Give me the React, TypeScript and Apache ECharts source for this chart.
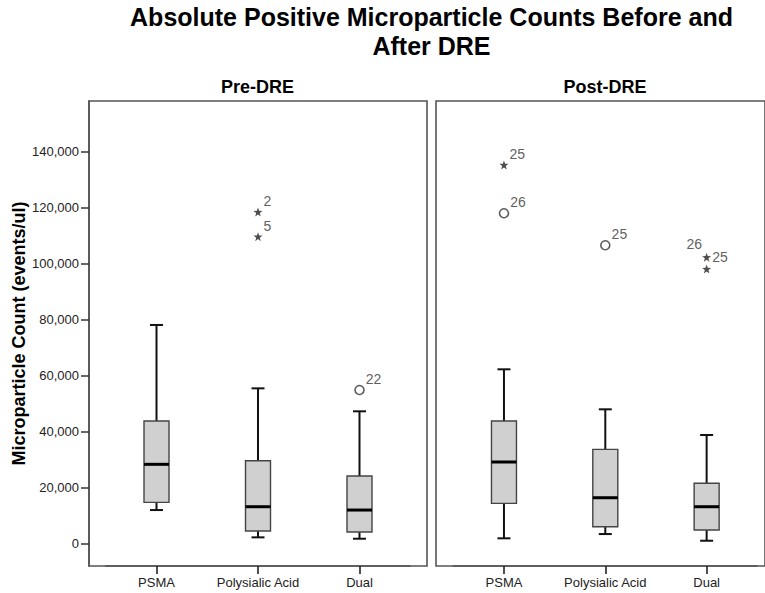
import React, { useEffect, useRef } from "react";
import * as echarts from "echarts";

const categories = ["PSMA", "Polysialic Acid", "Dual"];
// [min, Q1, median, Q3, max]
const preStats = [
  [11900, 14650, 28240, 43720, 78050],
  [2140, 4400, 13090, 29540, 55400],
  [1650, 4040, 11900, 24060, 47190],
];
const postStats = [
  [1790, 14300, 29070, 43720, 62200],
  [3320, 5940, 16300, 33600, 47900],
  [930, 4750, 13090, 21450, 38720],
];
// [categoryIndex, value, case label]
const preExtremes = [
  [1, 118440, "2"],
  [1, 109620, "5"],
];
const preMild = [[2, 54800, "22"]];
const postExtremes = [
  [0, 135250, "25"],
  [2, 102250, "25"],
  [2, 98070, "26"],
];
const postMild = [
  [0, 117980, "26"],
  [1, 106540, "25"],
];
const yTicks = [0, 20000, 40000, 60000, 80000, 100000, 120000, 140000];
const Y_MIN = -8100;
const Y_MAX = 158100;
const titleLines = ["Absolute Positive Microparticle Counts Before and", "After DRE"];

const FONT = "'Liberation Sans', Arial, Helvetica, sans-serif";
const STAR =
  "path://M0,-10 L2.35,-3.24 L9.51,-3.09 L3.8,1.24 L5.88,8.09 L0,4 L-5.88,8.09 L-3.8,1.24 L-9.51,-3.09 L-2.35,-3.24Z";

function boxRender(params: any, api: any) {
  const idx = api.value(0);
  const mn = api.value(1);
  const q1 = api.value(2);
  const md = api.value(3);
  const q3 = api.value(4);
  const mx = api.value(5);
  const x = api.coord([idx, md])[0];
  const y = (v: number) => api.coord([idx, v])[1];
  const hb = 12.5;
  const hc = 6.5;
  const whisk = { stroke: "#111", lineWidth: 2 };
  return {
    type: "group",
    children: [
      { type: "line", shape: { x1: x, y1: y(q3), x2: x, y2: y(mx) }, style: whisk },
      { type: "line", shape: { x1: x, y1: y(q1), x2: x, y2: y(mn) }, style: whisk },
      { type: "line", shape: { x1: x - hc, y1: y(mx), x2: x + hc, y2: y(mx) }, style: whisk },
      { type: "line", shape: { x1: x - hc, y1: y(mn), x2: x + hc, y2: y(mn) }, style: whisk },
      {
        type: "rect",
        shape: { x: x - hb, y: y(q3), width: hb * 2, height: y(q1) - y(q3) },
        style: { fill: "#d0d0d0", stroke: "#444", lineWidth: 1.4 },
      },
      {
        type: "line",
        shape: { x1: x - hb, y1: y(md), x2: x + hb, y2: y(md) },
        style: { stroke: "#000", lineWidth: 3 },
      },
    ],
  };
}

function outlierData(arr: any[], side: string[] = []) {
  return arr.map((d, i) => {
    const s = side[i] || "right";
    return {
      value: [d[0], d[1]],
      label: {
        show: true,
        formatter: String(d[2]),
        position: s === "left" ? "left" : "right",
        distance: s === "left" ? 0 : 1,
        offset: s === "left" ? [0, -25] : [0, s === "rightLevel" ? 0 : -11],
      },
    };
  });
}

const postExtremeSides = ["right", "rightLevel", "left"];

export default function App() {
  const ref = useRef<HTMLDivElement>(null);
  useEffect(() => {
    if (!ref.current) return;
    const chart = echarts.init(ref.current, null, { renderer: "svg" });
    const labelStyle = { fontFamily: FONT, fontSize: 14, color: "#333" };
    const frameGrid = { show: true, borderColor: "#555", borderWidth: 1.6, backgroundColor: "transparent" };
    const yCommon = { type: "value", min: Y_MIN, max: Y_MAX, splitLine: { show: false } };
    const catAxis = (gridIndex: number) => ({
      type: "category",
      gridIndex,
      data: categories,
      boundaryGap: true,
      axisLine: { show: true, onZero: false, lineStyle: { color: "#555", width: 1.6 } },
      axisTick: { show: true, interval: 0, alignWithLabel: true, length: 8, lineStyle: { color: "#222", width: 1.6 } },
      axisLabel: { interval: 0, margin: 10, fontFamily: FONT, fontSize: 13, color: "#222", hideOverlap: false },
      splitLine: { show: false },
    });
    const outlierSeries = (idx: number, data: any[], symbol: string, size: number, extra: any) => ({
      type: "scatter",
      xAxisIndex: idx,
      yAxisIndex: idx,
      symbol,
      symbolSize: size,
      data,
      itemStyle: extra,
      label: { ...labelStyle },
      z: 5,
    });
    const circleStyle = { color: "#fff", borderColor: "#333", borderWidth: 1.6 };
    const titleStyle = { fontFamily: FONT, fontSize: 25, fontWeight: "bold", fill: "#000", align: "center", verticalAlign: "middle" };
    const panelStyle = { fontFamily: FONT, fontSize: 18, fontWeight: "bold", fill: "#000", align: "center", verticalAlign: "middle" };
    chart.setOption({
      animation: false,
      backgroundColor: "#fff",
      grid: [
        { left: 89, width: 338, top: 101, bottom: 27, ...frameGrid },
        { left: 105.75, width: 304.5, top: 101, bottom: 27, show: false },
        { left: 436, width: 338, top: 101, bottom: 27, ...frameGrid },
        { left: 453.3, width: 304, top: 101, bottom: 27, show: false },
      ],
      xAxis: [
        { type: "value", gridIndex: 0, show: false },
        catAxis(1),
        { type: "value", gridIndex: 2, show: false },
        catAxis(3),
      ],
      yAxis: [
        {
          ...yCommon,
          gridIndex: 0,
          name: "Microparticle Count (events/ul)",
          nameLocation: "middle",
          nameGap: 60,
          nameTextStyle: { fontFamily: FONT, fontSize: 18, fontWeight: "bold", color: "#000" },
          axisLine: { show: true, lineStyle: { color: "#555", width: 1.6 } },
          axisTick: { show: true, length: 8, customValues: yTicks, lineStyle: { color: "#333", width: 1.5 } },
          axisLabel: {
            margin: 10,
            customValues: yTicks,
            fontFamily: FONT,
            fontSize: 13,
            color: "#222",
            formatter: (v: number) => v.toLocaleString("en-US"),
          },
        },
        { ...yCommon, gridIndex: 1, show: false },
        { ...yCommon, gridIndex: 2, show: false },
        { ...yCommon, gridIndex: 3, show: false },
      ],
      graphic: [
        { type: "text", x: 431.5, y: 17, style: { text: titleLines[0], ...titleStyle } },
        { type: "text", x: 431.5, y: 46, style: { text: titleLines[1], ...titleStyle } },
        { type: "text", x: 257.5, y: 87, style: { text: "Pre-DRE", ...panelStyle } },
        { type: "text", x: 605, y: 87, style: { text: "Post-DRE", ...panelStyle } },
      ],
      series: [
        {
          type: "custom",
          xAxisIndex: 1,
          yAxisIndex: 1,
          renderItem: boxRender,
          encode: { x: 0, y: [1, 2, 3, 4, 5] },
          data: preStats.map((s, i) => [i, ...s]),
        },
        {
          type: "custom",
          xAxisIndex: 3,
          yAxisIndex: 3,
          renderItem: boxRender,
          encode: { x: 0, y: [1, 2, 3, 4, 5] },
          data: postStats.map((s, i) => [i, ...s]),
        },
        outlierSeries(1, outlierData(preExtremes), STAR, 9, { color: "#222" }),
        outlierSeries(1, outlierData(preMild), "circle", 9, circleStyle),
        outlierSeries(3, outlierData(postExtremes, postExtremeSides), STAR, 9, { color: "#222" }),
        outlierSeries(3, outlierData(postMild), "circle", 9, circleStyle),
      ],
    });
    return () => chart.dispose();
  }, []);
  return (
    <div
      ref={ref}
      style={{ position: "fixed", left: 0, top: 0, width: 765, height: 593, background: "#fff" }}
    />
  );
}
